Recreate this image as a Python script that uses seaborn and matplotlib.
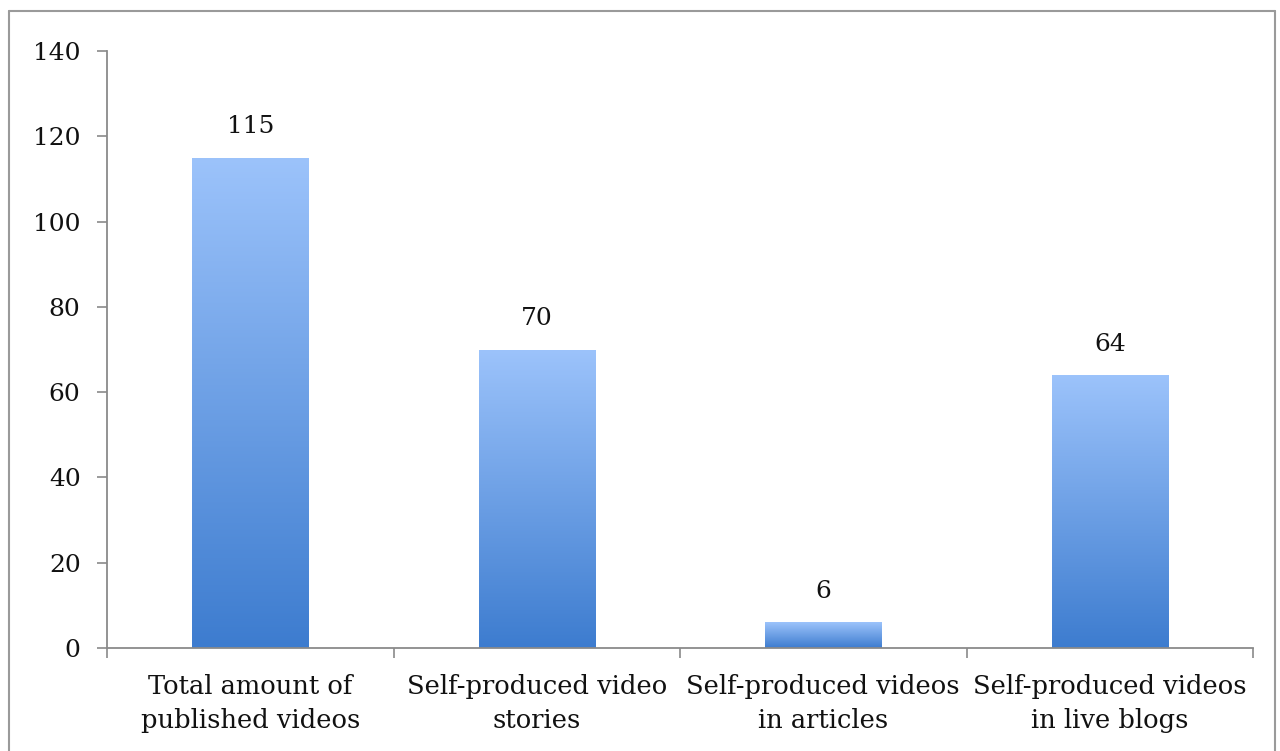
import matplotlib
matplotlib.use("Agg")
import matplotlib.pyplot as plt
import seaborn as sns
import numpy as np
import pandas as pd
from matplotlib.colors import LinearSegmentedColormap
from matplotlib.lines import Line2D

categories = ["Total amount of\npublished videos", "Self-produced video\nstories",
              "Self-produced videos\nin articles", "Self-produced videos\nin live blogs"]
values = [115, 70, 6, 64]
yticks = [0, 20, 40, 60, 80, 100, 120, 140]

sns.set_theme(style="white")
plt.rcParams['font.family'] = ['DejaVu Serif', 'Liberation Serif']

fig = plt.figure(figsize=(12.8, 7.51), dpi=100)
ax = fig.add_axes([107/1280, 1-648/751, (1253-107)/1280, (648-51)/751])

df = pd.DataFrame({"cat": categories, "val": values})
sns.barplot(data=df, x="cat", y="val", ax=ax, color="#6a9fe6", width=0.405, saturation=1)

cmap = LinearSegmentedColormap.from_list("g", ["#3d7ccf", "#9cc3fb"])
grad = np.linspace(0, 1, 256).reshape(-1, 1)
for p in ax.patches:
    x0, y0 = p.get_x(), p.get_y()
    w, h = p.get_width(), p.get_height()
    im = ax.imshow(grad, cmap=cmap, origin="lower", aspect="auto",
                   extent=[x0, x0 + w, y0, y0 + h], zorder=p.get_zorder() + 0.1)
    im.set_clip_path(p)
    p.set_edgecolor("none")

for i, v in enumerate(values):
    ax.annotate(str(v), (i, v), xytext=(0, 14), textcoords="offset points",
                ha="center", va="bottom", fontsize=18, color="#111111")

ax.set_xlim(-0.5, 3.5)
ax.set_ylim(0, 140)
ax.set_yticks(yticks)
ax.set_yticklabels([str(t) for t in yticks], fontsize=18, color="#111111")
ax.set_xlabel("")
ax.set_ylabel("")
ax.tick_params(axis="x", which="major", bottom=True, length=0, labelsize=18.5, labelcolor="#111111", pad=19)
ax.set_xticks(np.arange(-0.5, 4.0, 1.0), minor=True)
ax.tick_params(axis="x", which="minor", bottom=True, length=7, width=1.2, color="#8a8a8a", direction="out")
ax.tick_params(axis="y", which="major", left=True, length=7, width=1.2, color="#8a8a8a", direction="out", pad=12)
for lab in ax.get_xticklabels():
    lab.set_linespacing(1.45)

for s in ["top", "right"]:
    ax.spines[s].set_visible(False)
for s in ["left", "bottom"]:
    ax.spines[s].set_color("#8a8a8a")
    ax.spines[s].set_linewidth(1.3)

# outer frame
fig.add_artist(Line2D([9/1280, 9/1280], [0, 1-11/751], transform=fig.transFigure, color="#9a9a9a", lw=1.5))
fig.add_artist(Line2D([9/1280, 1275/1280], [1-11/751, 1-11/751], transform=fig.transFigure, color="#9a9a9a", lw=1.5))
fig.add_artist(Line2D([1275/1280, 1275/1280], [0, 1-11/751], transform=fig.transFigure, color="#9a9a9a", lw=1.5))

fig.savefig("out.png", dpi=100, facecolor="white")
